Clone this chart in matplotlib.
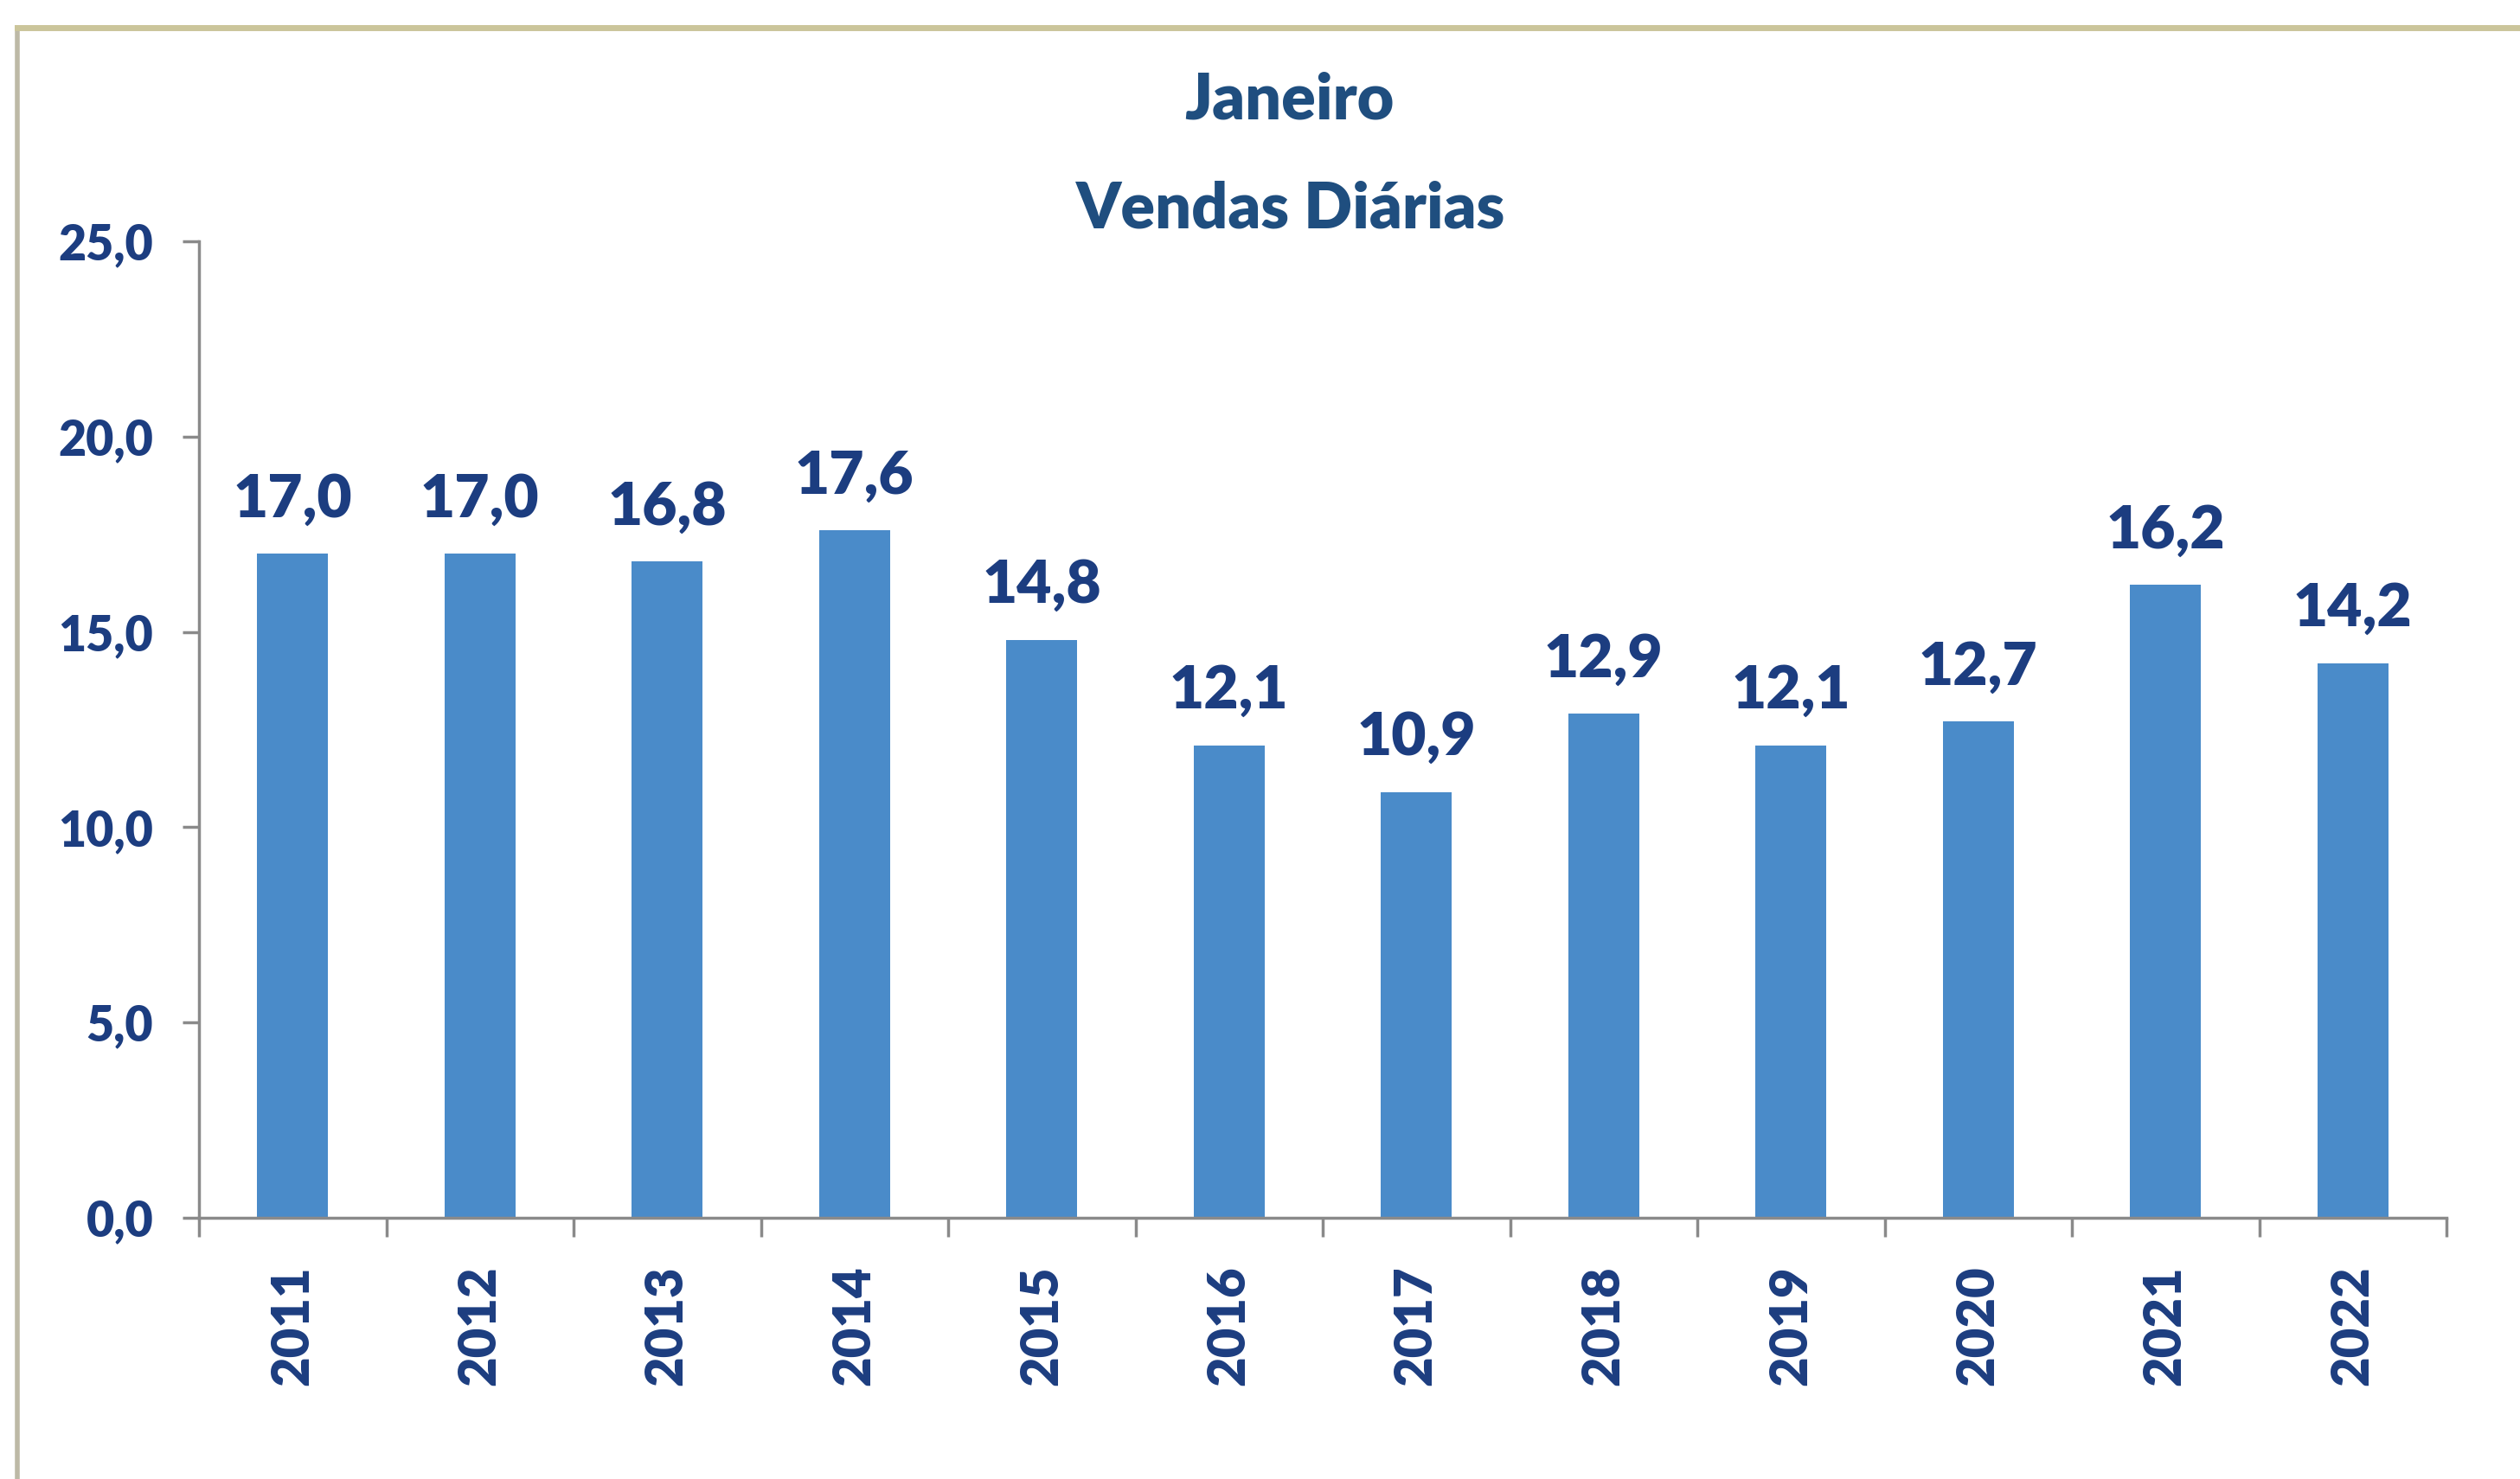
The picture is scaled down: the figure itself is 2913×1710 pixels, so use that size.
import numpy as np
import matplotlib.pyplot as plt
from matplotlib.patches import Rectangle

years = ['2011', '2012', '2013', '2014', '2015', '2016', '2017', '2018', '2019', '2020', '2021', '2022']
vendas = [17.0, 17.0, 16.8, 17.6, 14.8, 12.1, 10.9, 12.9, 12.1, 12.7, 16.2, 14.2]
y_ticks = [0, 5, 10, 15, 20, 25]

navy = '#1c3d80'
title_color = '#1f4e7f'
bar_color = '#4a8bc9'
axis_gray = '#8a8a8a'

plt.rcParams['font.family'] = ['Lato', 'DejaVu Sans']

fig = plt.figure(figsize=(29.13, 17.10), dpi=100)
fig.patch.set_facecolor('white')

# outer frame (clipped on the right and bottom in the original)
fig.patches.append(Rectangle((20 / 2913, -0.05), 1.1, 1 - 32 / 1710 + 0.05,
                             transform=fig.transFigure, fill=False,
                             edgecolor='#bdb9a6', linewidth=4))
fig.add_artist(plt.Line2D([20 / 2913, 1], [1 - 32 / 1710] * 2, transform=fig.transFigure,
                          color='#cbc59b', linewidth=5))

ax = fig.add_axes([230 / 2913, 1 - 1408 / 1710, (2828 - 230) / 2913, (1408 - 279) / 1710])
x = np.arange(len(years))
ax.bar(x, vendas, width=0.38, color=bar_color)

ax.set_xlim(-0.5, len(years) - 0.5)
ax.set_ylim(0, 25)
ax.set_yticks(y_ticks)
ax.set_yticklabels([f'{v:.1f}'.replace('.', ',') for v in y_ticks])

ax.set_xticks(x)
ax.set_xticklabels(years, rotation=90)
ax.set_xticks(np.arange(-0.5, len(years)), minor=True)
ax.tick_params(axis='x', which='major', length=0, pad=40, labelsize=43, labelcolor=navy)
ax.tick_params(axis='x', which='minor', length=16, width=2.5, color=axis_gray, direction='out')
ax.tick_params(axis='y', length=14, width=2.5, color=axis_gray, pad=24, labelsize=40, labelcolor=navy)
for lbl in ax.get_xticklabels() + ax.get_yticklabels():
    lbl.set_fontweight('heavy')

for side in ['top', 'right']:
    ax.spines[side].set_visible(False)
for side in ['left', 'bottom']:
    ax.spines[side].set_color(axis_gray)
    ax.spines[side].set_linewidth(2.5)

for xi, v in zip(x, vendas):
    ax.annotate(f'{v:.1f}'.replace('.', ','), (xi, v), xytext=(0, 22), textcoords='offset points',
                ha='center', va='bottom', fontsize=50, fontweight='heavy', color=navy)

fig.text(1490 / 2913, 1 - 117 / 1710, 'Janeiro', ha='center', va='center',
         fontsize=53, fontweight='heavy', color=title_color)
fig.text(1492 / 2913, 1 - 242 / 1710, 'Vendas Diárias', ha='center', va='center',
         fontsize=53, fontweight='heavy', color=title_color)

fig.savefig('out.png', dpi=100)
